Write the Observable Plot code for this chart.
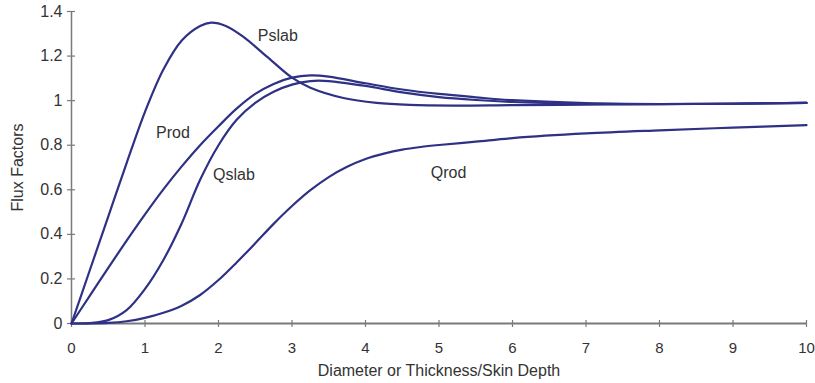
<!DOCTYPE html>
<html><head><meta charset="utf-8">
<script src="https://cdn.jsdelivr.net/npm/d3@7"></script>
<script src="https://cdn.jsdelivr.net/npm/@observablehq/plot@0.6"></script>
<style>body{margin:0;background:#fff}</style>
</head><body><div id="chart"></div>
<script>
// ---- data ----
const xTicks = [0, 1, 2, 3, 4, 5, 6, 7, 8, 9, 10];
const yTicks = [0, 0.2, 0.4, 0.6, 0.8, 1, 1.2, 1.4];
const xTitle = "Diameter or Thickness/Skin Depth";
const yTitle = "Flux Factors";

const pslabX = [0, 0.25, 0.5, 0.75, 1, 1.25, 1.5, 1.75, 1.9, 2.1, 2.33, 2.65, 3.0, 3.25, 3.7, 4.15, 4.6, 5.2, 6, 7, 8, 9, 10];
const pslabY = [0, 0.24, 0.48, 0.72, 0.95, 1.14, 1.27, 1.335, 1.35, 1.335, 1.288, 1.2, 1.103, 1.058, 1.012, 0.99, 0.981, 0.978, 0.98, 0.982, 0.984, 0.987, 0.99];

const prodX = [0, 0.25, 0.5, 0.75, 1, 1.25, 1.5, 1.75, 2, 2.25, 2.5, 2.75, 3, 3.25, 3.5, 4, 4.5, 5, 5.5, 6, 7, 8, 9, 10];
const prodY = [0, 0.125, 0.25, 0.372, 0.49, 0.602, 0.705, 0.8, 0.885, 0.965, 1.03, 1.075, 1.103, 1.113, 1.108, 1.078, 1.05, 1.03, 1.015, 1.002, 0.989, 0.985, 0.986, 0.99];

const qslabX = [0, 0.25, 0.5, 0.75, 1, 1.25, 1.5, 1.75, 2, 2.25, 2.5, 2.75, 3, 3.25, 3.5, 4, 4.5, 5, 5.5, 6, 7, 8, 9, 10];
const qslabY = [0, 0.002, 0.015, 0.06, 0.155, 0.285, 0.45, 0.645, 0.8, 0.915, 0.99, 1.04, 1.072, 1.088, 1.088, 1.066, 1.037, 1.016, 1.003, 0.994, 0.986, 0.984, 0.986, 0.99];

const qrodX = [0, 0.5, 0.75, 1, 1.25, 1.5, 1.75, 2, 2.25, 2.5, 2.75, 3, 3.25, 3.5, 3.75, 4, 4.25, 4.5, 4.75, 5, 5.5, 6, 7, 8, 9, 10];
const qrodY = [0, 0.003, 0.01, 0.025, 0.048, 0.08, 0.128, 0.195, 0.275, 0.36, 0.447, 0.527, 0.598, 0.657, 0.703, 0.738, 0.762, 0.78, 0.792, 0.801, 0.816, 0.832, 0.853, 0.867, 0.879, 0.89];

const seriesNames = ["Pslab", "Prod", "Qslab", "Qrod"];
const labelX = [2.807, 1.38, 2.21, 5.13];
const labelY = [1.291, 0.857, 0.669, 0.675];

// ---- build tables ----
const seriesXY = [[pslabX, pslabY], [prodX, prodY], [qslabX, qslabY], [qrodX, qrodY]];
const rows = seriesXY.flatMap(([xs, ys], i) => xs.map((x, j) => ({series: seriesNames[i], x, y: ys[j]})));
const labels = seriesNames.map((name, i) => ({name, x: labelX[i], y: labelY[i]}));

const navy = "#2e3184";
const axisGrey = "#7a7a7a";

const chart = Plot.plot({
  width: 815,
  height: 383,
  marginLeft: 71,
  marginRight: 9,
  marginTop: 11,
  marginBottom: 60,
  x: {domain: [0, 10]},
  y: {domain: [0, 1.4]},
  style: {fontFamily: "'Liberation Sans', Arial, sans-serif", fontSize: "16px", color: "#333", background: "#fff"},
  marks: [
    Plot.axisX({ticks: xTicks, tickSize: 0, tickPadding: 19, label: null, fill: "#333", fontSize: 15}),
    Plot.axisY({ticks: yTicks, tickSize: 0, tickPadding: 9, label: null, fill: "#333",
      tickFormat: d => String(+d.toFixed(1))}),
    Plot.ruleX([0], {stroke: axisGrey, strokeWidth: 1.5}),
    Plot.ruleY([0], {stroke: axisGrey, strokeWidth: 2}),
    Plot.ruleX(xTicks, {x: d => d, y1: 0, y2: 0, insetTop: -3, insetBottom: -4, stroke: axisGrey, strokeWidth: 1.2}),
    Plot.ruleY(yTicks, {y: d => d, x1: 0, x2: 0, insetLeft: -4, insetRight: -4, stroke: axisGrey, strokeWidth: 1.2}),
    Plot.line(rows, {x: "x", y: "y", z: "series", stroke: navy, strokeWidth: 2.2, curve: "catmull-rom"}),
    Plot.text(labels, {x: "x", y: "y", text: "name", fill: "#333", fontSize: 16, textAnchor: "middle"}),
    Plot.text([xTitle], {text: d => d, frameAnchor: "bottom", dy: 47, textAnchor: "middle", lineAnchor: "middle", fill: "#333", fontSize: 16}),
    Plot.text([yTitle], {text: d => d, frameAnchor: "left", dx: -54, rotate: -90, textAnchor: "middle", lineAnchor: "middle", fill: "#333", fontSize: 16})
  ]
});
document.getElementById("chart").appendChild(chart);
</script>
</body></html>
